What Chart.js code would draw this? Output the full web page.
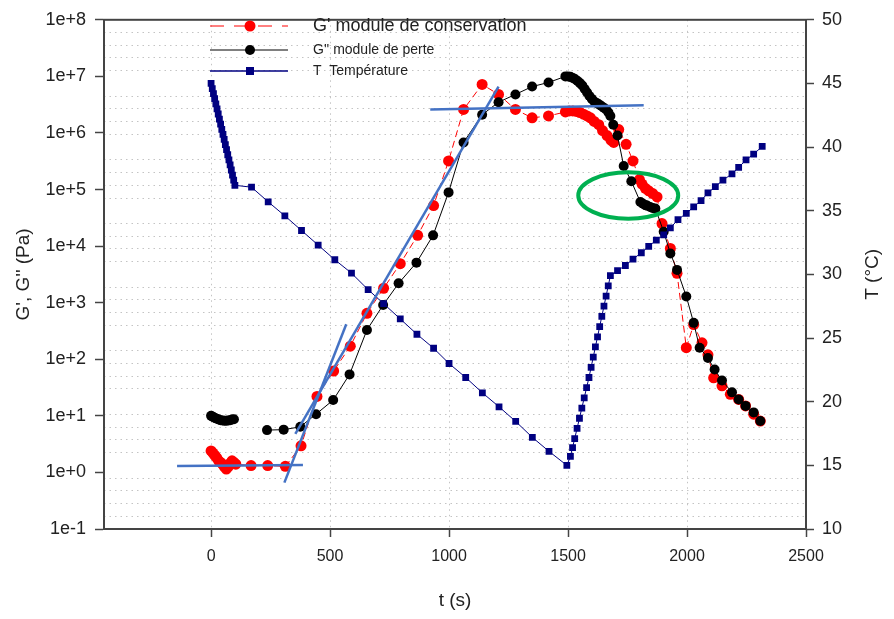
<!DOCTYPE html>
<html>
<head>
<meta charset="utf-8">
<script src="https://cdn.jsdelivr.net/npm/chart.js@4.4.0/dist/chart.umd.min.js"></script>
<style>
  html, body { margin: 0; padding: 0; background: #fff; }
  canvas { display: block; }
</style>
</head>
<body>
<canvas id="graf" width="894" height="619"></canvas>
<script>
// G' module de conservation (Pa)
var gpTime = [0, 8, 16, 24, 32, 40, 48, 56, 64, 72, 80, 88, 96, 104, 168, 238, 312, 378, 445, 515, 585, 655, 725, 795, 868, 935, 998, 1061, 1139, 1208, 1279, 1349, 1418, 1489, 1505, 1520, 1535, 1550, 1565, 1580, 1594, 1610, 1629, 1645, 1664, 1680, 1692, 1713, 1744, 1773, 1800, 1811, 1825, 1839, 1856, 1874, 1895, 1930, 1958, 1997, 2028, 2063, 2088, 2112, 2147, 2182, 2217, 2246, 2280, 2308]
var gpValues = [2.4, 2.2, 2.0, 1.8, 1.6, 1.5, 1.4, 1.25, 1.15, 1.25, 1.45, 1.6, 1.5, 1.4, 1.32, 1.32, 1.28, 2.95, 22, 62, 170, 650, 1800, 4900, 15500, 52000, 3.2e5, 2.6e6, 7.2e6, 4.8e6, 2.6e6, 1.85e6, 2.0e6, 2.35e6, 2.45e6, 2.45e6, 2.4e6, 2.3e6, 2.15e6, 2.0e6, 1.85e6, 1.6e6, 1.4e6, 1.1e6, 9.0e5, 7.5e5, 6.8e5, 1.15e6, 6.3e5, 3.2e5, 1.5e5, 1.25e5, 1.05e5, 9.5e4, 8.5e4, 7.4e4, 2.5e4, 9100, 3300, 160, 410, 195, 120, 47, 34, 24, 19.5, 15, 10.7, 8.1]

// G'' module de perte (Pa) - null coupe la ligne
var gsTime = [0, 8, 16, 24, 32, 40, 48, 56, 64, 72, 80, 88, 96, 160, 235, 305, 375, 441, 513, 582, 655, 723, 788, 863, 933, 998, 1061, 1139, 1208, 1279, 1349, 1418, 1489, 1500, 1510, 1520, 1530, 1540, 1550, 1560, 1570, 1580, 1590, 1600, 1610, 1620, 1630, 1640, 1650, 1660, 1670, 1678, 1690, 1708, 1734, 1766, 1804, 1815, 1825, 1832, 1845, 1855, 1867, 1902, 1930, 1958, 1997, 2028, 2053, 2088, 2116, 2147, 2189, 2217, 2246, 2280, 2308]
var gsValues = [10.0, 9.6, 9.2, 8.9, 8.6, 8.4, 8.3, 8.2, 8.2, 8.3, 8.4, 8.6, 8.7, null, 5.6, 5.7, 6.4, 10.7, 19, 54, 330, 910, 2200, 5100, 15500, 89000, 6.8e5, 2.1e6, 3.5e6, 4.8e6, 6.6e6, 7.8e6, 1.0e7, 1.0e7, 9.8e6, 9.4e6, 8.9e6, 8.3e6, 7.6e6, 6.9e6, 6.0e6, 5.2e6, 4.5e6, 4.0e6, 3.6e6, 3.4e6, 3.2e6, 3.0e6, 2.8e6, 2.6e6, 2.3e6, 2.0e6, 1.4e6, 9.0e5, 2.6e5, 1.4e5, 6.0e4, 5.6e4, 5.3e4, 5.2e4, 4.9e4, 4.7e4, 4.6e4, 1.8e4, 7400, 3800, 1290, 440, 160, 105, 66, 42, 26, 19.5, 15, 11.5, 8.1]

// T température (°C)
var tempTime = [0, 5, 10, 15, 20, 25, 30, 35, 40, 45, 50, 55, 60, 65, 70, 75, 80, 85, 90, 95, 100, 170, 240, 310, 380, 450, 520, 590, 660, 725, 795, 865, 935, 1000, 1070, 1140, 1210, 1280, 1350, 1420, 1495, 1510, 1519, 1528, 1538, 1548, 1558, 1568, 1578, 1588, 1597, 1606, 1615, 1624, 1633, 1642, 1651, 1660, 1669, 1678, 1708, 1741, 1773, 1808, 1839, 1871, 1902, 1930, 1962, 1997, 2028, 2059, 2088, 2119, 2151, 2189, 2217, 2248, 2280, 2316]
var tempValues = [45.0, 44.6, 44.2, 43.8, 43.4, 43.0, 42.6, 42.2, 41.8, 41.4, 41.0, 40.6, 40.2, 39.8, 39.4, 39.0, 38.6, 38.2, 37.8, 37.4, 37.0, 36.85, 35.7, 34.6, 33.45, 32.3, 31.15, 30.1, 28.8, 27.7, 26.5, 25.3, 24.2, 23.0, 21.9, 20.7, 19.6, 18.45, 17.2, 16.1, 15.0, 15.7, 16.4, 17.1, 17.9, 18.7, 19.5, 20.3, 21.1, 21.9, 22.7, 23.5, 24.3, 25.1, 25.9, 26.7, 27.5, 28.3, 29.1, 29.9, 30.3, 30.7, 31.2, 31.7, 32.2, 32.7, 33.1, 33.65, 34.3, 34.8, 35.3, 35.8, 36.4, 36.9, 37.4, 37.9, 38.4, 39.0, 39.45, 40.05]

// tangentes tracees a la main [t, G]
var tangentes = [
  [[-143, 1.3], [386, 1.35]],
  [[308, 0.66], [568, 417]],
  [[354, 4.8], [1208, 6.6e6]],
  [[921, 2.6e6], [1818, 3.1e6]]
]

// ellipse verte : centre (t, T) et demi-axes
var ellipse = { t: 1753, T: 36.2, dt: 210, dT: 1.82 }

var xTicks = [0, 500, 1000, 1500, 2000, 2500]
var gTicks = [1e-1, 1e0, 1e1, 1e2, 1e3, 1e4, 1e5, 1e6, 1e7, 1e8]
var tTicks = []
for (var v = 10; v <= 50; v++) tTicks.push(v)

var legendLabels = ["G' module de conservation", "G'' module de perte", "T  Température"]
var titreT = 'T (°C)'

var police = "'Liberation Sans', Arial, sans-serif"

function points(xs, ys) {
  return xs.map(function (x, i) { return { x: x, y: ys[i] } })
}

var datasets = tangentes.map(function (seg) {
  return {
    data: points([seg[0][0], seg[1][0]], [seg[0][1], seg[1][1]]),
    yAxisID: 'y',
    borderColor: '#4472c4',
    borderWidth: 2.5,
    pointRadius: 0,
    order: 0
  }
})

datasets.push({
  label: legendLabels[2],
  data: points(tempTime, tempValues),
  yAxisID: 'yT',
  borderColor: '#000080',
  borderWidth: 1,
  pointStyle: 'rect',
  pointRadius: 4.8,
  pointBackgroundColor: '#000080',
  pointBorderColor: '#000080',
  pointBorderWidth: 0,
  order: 1
})
datasets.push({
  label: legendLabels[1],
  data: points(gsTime, gsValues),
  yAxisID: 'y',
  borderColor: '#000000',
  borderWidth: 1,
  pointRadius: 5,
  pointBackgroundColor: '#000000',
  pointBorderColor: '#000000',
  pointBorderWidth: 0,
  spanGaps: false,
  order: 2
})
datasets.push({
  label: legendLabels[0],
  data: points(gpTime, gpValues),
  yAxisID: 'y',
  borderColor: '#ff0000',
  borderWidth: 1,
  borderDash: [7, 4],
  pointRadius: 5.5,
  pointBackgroundColor: '#ff0000',
  pointBorderColor: '#ff0000',
  pointBorderWidth: 0,
  order: 3
})

var decor = {
  id: 'decor',
  afterDatasetsDraw: function (chart) {
    var ctx = chart.ctx
    var a = chart.chartArea
    var sx = chart.scales.x
    var sT = chart.scales.yT

    // ellipse verte
    var cx = sx.getPixelForValue(ellipse.t)
    var cy = sT.getPixelForValue(ellipse.T)
    var rx = Math.abs(sx.getPixelForValue(ellipse.t + ellipse.dt) - cx)
    var ry = Math.abs(sT.getPixelForValue(ellipse.T + ellipse.dT) - cy)
    ctx.save()
    ctx.strokeStyle = '#00b050'
    ctx.lineWidth = 4
    ctx.beginPath()
    ctx.ellipse(cx, cy, rx, ry, 0, 0, Math.PI * 2)
    ctx.stroke()
    ctx.restore()

    // cadre
    ctx.save()
    ctx.strokeStyle = '#444'
    ctx.lineWidth = 2
    ctx.strokeRect(a.left, a.top, a.right - a.left, a.bottom - a.top)
    ctx.restore()

    // titre de l'axe de droite, lu de bas en haut
    ctx.save()
    ctx.translate(873, (a.top + a.bottom) / 2)
    ctx.rotate(-Math.PI / 2)
    ctx.fillStyle = '#222'
    ctx.font = '19px ' + police
    ctx.textAlign = 'center'
    ctx.textBaseline = 'middle'
    ctx.fillText(titreT, 0, 0)
    ctx.restore()

    // legende
    var rows = [
      { ds: chart.data.datasets[datasets.length - 1], y: 26, size: 18 },
      { ds: chart.data.datasets[datasets.length - 2], y: 50, size: 14 },
      { ds: chart.data.datasets[datasets.length - 3], y: 71, size: 14 }
    ]
    rows.forEach(function (r) {
      var ds = r.ds
      ctx.save()
      ctx.strokeStyle = ds.borderColor
      ctx.lineWidth = ds === rows[2].ds ? 1.5 : 1
      if (ds.borderDash) ctx.setLineDash([14, 10])
      ctx.beginPath()
      ctx.moveTo(210, r.y)
      ctx.lineTo(288, r.y)
      ctx.stroke()
      ctx.setLineDash([])
      ctx.fillStyle = ds.pointBackgroundColor
      if (ds.pointStyle === 'rect') {
        ctx.fillRect(250 - 4, r.y - 4, 8, 8)
      } else {
        ctx.beginPath()
        ctx.arc(250, r.y, ds.pointRadius, 0, Math.PI * 2)
        ctx.fill()
      }
      ctx.fillStyle = '#222'
      ctx.font = r.size + 'px ' + police
      ctx.textBaseline = 'middle'
      ctx.textAlign = 'left'
      ctx.fillText(ds.label, 313, r.y)
      ctx.restore()
    })
  }
}

new Chart(document.getElementById('graf'), {
  type: 'line',
  data: { datasets: datasets },
  plugins: [decor],
  options: {
    responsive: false,
    animation: false,
    layout: { padding: { top: 17, left: 0, right: 0, bottom: 0 } },
    plugins: { legend: { display: false }, tooltip: { enabled: false } },
    scales: {
      x: {
        type: 'linear',
        position: 'bottom',
        min: -450,
        max: 2500,
        afterBuildTicks: function (s) { s.ticks = xTicks.map(function (v) { return { value: v } }) },
        afterFit: function (s) { s.height = 90 },
        grid: { color: '#c4c4c4', lineWidth: 1, tickColor: '#444', tickLength: 8, tickWidth: 1.5 },
        border: { color: '#444', width: 2, dash: [1.5, 4] },
        ticks: {
          autoSkip: false,
          maxRotation: 0,
          padding: 10,
          color: '#222',
          font: { family: police, size: 16 },
          callback: function (value) { return String(value) }
        },
        title: { display: true, text: 't (s)', color: '#222', font: { family: police, size: 19 }, padding: { top: 0, bottom: 7 } }
      },
      y: {
        type: 'logarithmic',
        position: 'left',
        min: 0.1,
        max: 1e8,
        afterBuildTicks: function (s) { s.ticks = gTicks.map(function (v) { return { value: v } }) },
        afterFit: function (s) { s.width = 104 },
        grid: { drawOnChartArea: false, tickColor: '#444', tickLength: 9, tickWidth: 1.5 },
        border: { color: '#444', width: 2 },
        ticks: {
          autoSkip: false,
          padding: 9,
          color: '#222',
          font: { family: police, size: 18 },
          callback: function (value) {
            var e = Math.round(Math.log10(value))
            return e >= 0 ? '1e+' + e : '1e' + e
          }
        },
        title: { display: true, text: "G', G'' (Pa)", color: '#222', font: { family: police, size: 19 }, padding: { top: 12, bottom: 0 } }
      },
      yT: {
        type: 'linear',
        position: 'right',
        min: 10,
        max: 50,
        afterBuildTicks: function (s) { s.ticks = tTicks.map(function (v) { return { value: v } }) },
        afterFit: function (s) { s.width = 88 },
        grid: {
          lineWidth: 1,
          tickLength: 8,
          tickWidth: 1.5,
          color: function (c) { return c.tick && c.tick.value % 5 === 0 ? 'rgba(0,0,0,0)' : '#c4c4c4' },
          tickColor: function (c) { return c.tick && c.tick.value % 5 === 0 ? '#444' : 'rgba(0,0,0,0)' }
        },
        border: { color: '#444', width: 2, dash: [1.5, 4] },
        ticks: {
          autoSkip: false,
          padding: 8,
          color: '#222',
          font: { family: police, size: 18 },
          callback: function (value) { return value % 5 === 0 ? String(value) : '' }
        },
        title: { display: false }
      }
    }
  }
})
</script>
</body>
</html>
